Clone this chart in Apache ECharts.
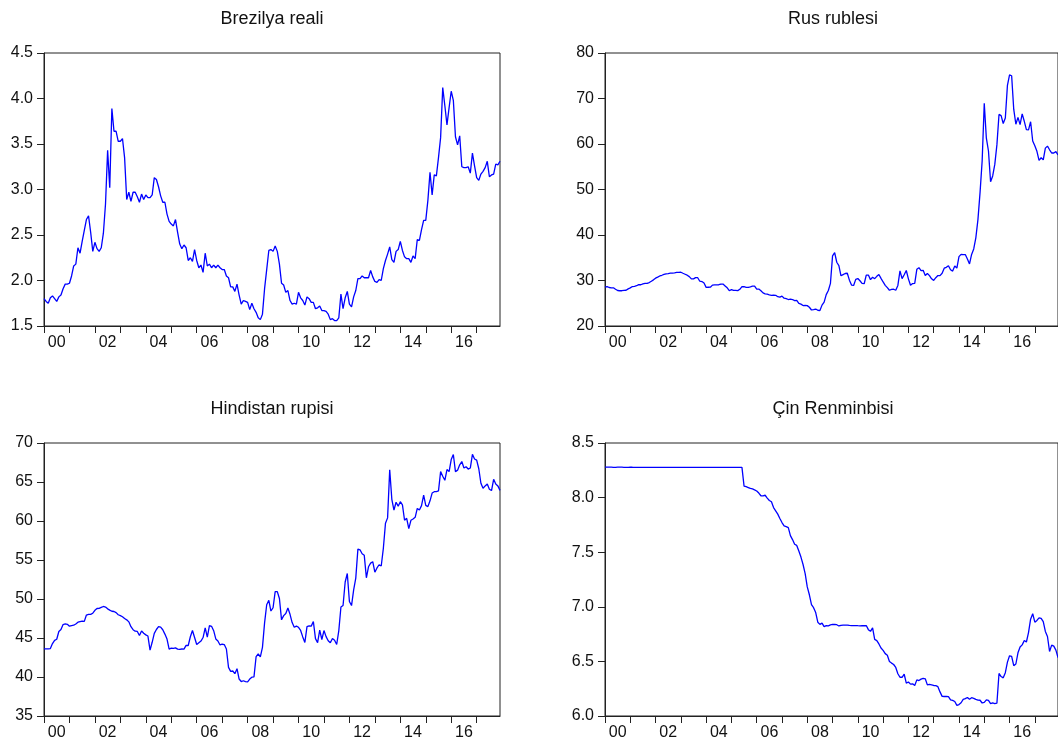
<!DOCTYPE html>
<html><head><meta charset="utf-8">
<script src="https://cdn.jsdelivr.net/npm/echarts@6/dist/echarts.min.js"></script>
<style>html,body{margin:0;padding:0;background:#fff}#c{width:1058px;height:742px}</style>
</head><body><div id="c"></div>
<script>
// Monthly end-of-period exchange rates (per USD), 2000M01 - 2017M12
const yearLabels = ['00','02','04','06','08','10','12','14','16'];
const titles = ['Brezilya reali', 'Rus rublesi', 'Hindistan rupisi', 'Çin Renminbisi'];

const brl = [
 1.80,1.77,1.75,1.81,1.83,1.80,1.77,1.82,1.84,1.91,1.96,1.96,
 1.97,2.05,2.16,2.18,2.36,2.30,2.43,2.55,2.67,2.71,2.53,2.32,
 2.42,2.35,2.32,2.36,2.52,2.84,3.43,3.02,3.89,3.64,3.64,3.53,
 3.53,3.56,3.35,2.89,2.97,2.87,2.97,2.97,2.92,2.86,2.95,2.89,
 2.94,2.91,2.91,2.94,3.13,3.11,3.03,2.93,2.86,2.86,2.73,2.65,
 2.62,2.60,2.67,2.53,2.40,2.35,2.39,2.36,2.22,2.25,2.21,2.34,
 2.22,2.14,2.17,2.09,2.30,2.16,2.18,2.14,2.17,2.14,2.17,2.14,
 2.12,2.12,2.05,2.03,1.93,1.93,1.88,1.96,1.84,1.74,1.78,1.77,
 1.76,1.68,1.75,1.69,1.65,1.59,1.57,1.63,1.91,2.12,2.33,2.34,
 2.32,2.38,2.32,2.18,1.97,1.95,1.87,1.89,1.78,1.74,1.75,1.74,
 1.87,1.81,1.78,1.73,1.82,1.80,1.76,1.76,1.69,1.70,1.72,1.67,
 1.67,1.66,1.63,1.57,1.58,1.56,1.56,1.59,1.85,1.69,1.81,1.88,
 1.74,1.71,1.82,1.89,2.02,2.02,2.05,2.03,2.03,2.03,2.11,2.04,
 1.99,1.98,2.01,2.00,2.13,2.22,2.29,2.37,2.23,2.20,2.32,2.34,
 2.43,2.33,2.26,2.24,2.24,2.20,2.27,2.24,2.45,2.44,2.56,2.66,
 2.66,2.88,3.19,2.94,3.16,3.15,3.35,3.57,4.12,3.92,3.71,3.90,
 4.08,3.98,3.58,3.49,3.59,3.25,3.24,3.24,3.25,3.18,3.40,3.26,
 3.13,3.10,3.17,3.20,3.24,3.31,3.14,3.16,3.17,3.28,3.27,3.31
];

const rub = [
 28.55,28.66,28.46,28.40,28.40,28.07,27.80,27.75,27.75,27.85,27.86,28.16,
 28.37,28.67,28.72,28.85,29.09,29.07,29.27,29.36,29.39,29.55,29.84,30.14,
 30.51,30.75,31.00,31.15,31.33,31.45,31.52,31.60,31.64,31.69,31.78,31.78,
 31.82,31.59,31.38,31.17,30.86,30.35,30.35,30.63,30.61,29.84,29.77,29.45,
 28.49,28.52,28.53,28.99,29.03,29.03,29.07,29.22,29.22,28.81,28.39,27.75,
 27.98,27.81,27.82,27.77,28.07,28.67,28.63,28.50,28.50,28.61,28.75,28.78,
 28.12,28.12,27.76,27.27,27.07,27.00,26.85,26.75,26.78,26.75,26.44,26.33,
 26.57,26.11,26.01,25.82,25.90,25.82,25.58,25.64,24.95,24.80,24.50,24.55,
 24.48,24.12,23.52,23.62,23.73,23.46,23.40,24.59,25.25,26.89,27.80,29.38,
 35.42,36.12,34.01,33.29,31.04,31.29,31.54,31.59,30.08,29.00,28.92,30.24,
 30.43,29.95,29.36,29.29,31.20,31.20,30.19,30.72,30.40,30.92,31.33,30.48,
 29.68,28.93,28.43,27.86,28.05,28.08,27.85,28.92,32.12,30.40,31.25,32.20,
 30.36,28.95,29.33,29.35,32.46,32.82,32.19,32.24,31.09,31.55,31.07,30.37,
 30.03,30.62,31.08,31.08,31.59,32.71,32.89,33.25,32.35,32.07,33.19,32.73,
 35.24,35.75,35.69,35.70,34.74,33.63,35.73,36.93,39.38,43.39,49.32,56.26,
 68.93,61.28,58.46,51.70,52.97,55.52,59.80,66.50,66.24,64.50,65.70,72.88,
 75.18,75.00,67.60,64.34,65.86,64.26,66.63,64.99,63.16,63.10,64.90,60.66,
 59.60,58.40,56.38,56.98,56.52,59.09,59.54,58.73,58.02,58.02,58.33,57.60
];

const inr = [
 43.60,43.60,43.61,43.65,44.28,44.70,44.84,45.83,46.08,46.72,46.80,46.75,
 46.51,46.60,46.64,46.80,47.02,47.09,47.15,47.13,47.94,48.03,48.03,48.18,
 48.55,48.78,48.80,48.92,49.04,48.97,48.74,48.58,48.43,48.40,48.25,47.98,
 47.87,47.72,47.50,47.33,47.07,46.45,46.07,45.87,45.84,45.32,45.91,45.61,
 45.40,45.25,43.45,44.45,45.59,46.09,46.45,46.39,46.06,45.50,44.86,43.58,
 43.69,43.67,43.73,43.57,43.55,43.59,43.57,44.06,44.04,45.16,45.96,45.07,
 44.17,44.39,44.61,45.06,46.30,45.10,46.60,46.50,45.94,44.88,44.62,44.11,
 44.20,44.16,43.59,41.23,40.72,40.77,40.42,41.06,39.74,39.42,39.52,39.41,
 39.37,39.73,39.97,40.02,42.60,42.95,42.57,43.80,46.94,49.26,49.83,48.46,
 48.88,50.95,50.95,50.06,47.33,47.87,48.15,48.84,48.04,46.98,46.37,46.53,
 46.37,45.97,45.14,44.43,46.45,46.56,46.52,47.11,44.92,44.41,46.00,44.81,
 45.95,45.18,44.65,44.38,44.93,44.72,44.17,45.95,48.97,49.16,52.18,53.27,
 49.68,49.16,51.16,52.68,56.40,56.31,55.80,55.60,52.72,54.13,54.60,54.78,
 53.44,53.98,54.39,54.23,56.50,59.70,60.40,66.57,62.78,61.41,62.40,61.90,
 62.48,62.07,60.10,60.34,59.03,60.09,60.25,60.47,61.61,61.42,61.97,63.33,
 62.00,61.84,62.59,63.58,63.76,63.76,63.86,66.33,65.74,65.22,66.60,66.33,
 67.88,68.52,66.33,66.52,67.20,67.62,66.79,66.96,66.66,66.79,68.55,67.95,
 67.80,66.70,64.84,64.20,64.50,64.74,64.08,63.90,65.35,64.75,64.50,63.93
];

const cny = [
 8.2793,8.2790,8.2787,8.2795,8.2770,8.2775,8.2793,8.2791,8.2784,8.2774,8.2775,8.2774,
 8.2787,8.2778,8.2776,8.2772,8.2769,8.2771,8.2772,8.2771,8.2770,8.2768,8.2766,8.2766,
 8.2767,8.2768,8.2773,8.2770,8.2769,8.2770,8.2767,8.2771,8.2769,8.2770,8.2771,8.2773,
 8.2769,8.2774,8.2774,8.2772,8.2771,8.2770,8.2774,8.2771,8.2773,8.2770,8.2771,8.2767,
 8.2768,8.2770,8.2771,8.2770,8.2768,8.2766,8.2768,8.2766,8.2765,8.2765,8.2765,8.2765,
 8.2765,8.2765,8.2765,8.2765,8.2765,8.2765,8.1056,8.1000,8.0920,8.0840,8.0800,8.0702,
 8.0608,8.0415,8.0170,8.0165,8.0215,7.9956,7.9737,7.9623,7.9087,7.8792,7.8487,7.8087,
 7.7715,7.7410,7.7342,7.7247,7.6516,7.6155,7.5729,7.5621,7.5108,7.4553,7.3872,7.3046,
 7.1818,7.1100,7.0190,6.9920,6.9472,6.8591,6.8388,6.8509,6.8183,6.8281,6.8258,6.8346,
 6.8382,6.8379,6.8359,6.8243,6.8300,6.8319,6.8325,6.8322,6.8290,6.8271,6.8275,6.8282,
 6.8270,6.8262,6.8263,6.8263,6.8284,6.7909,6.7750,6.8069,6.7011,6.6908,6.6600,6.6227,
 6.6011,6.5713,6.5564,6.4990,6.4845,6.4716,6.4447,6.3867,6.3549,6.3547,6.3825,6.3009,
 6.3115,6.2919,6.2943,6.2787,6.3308,6.3249,6.3379,6.3449,6.3410,6.2848,6.2892,6.2855,
 6.2795,6.2779,6.2689,6.2208,6.1796,6.1787,6.1788,6.1780,6.1480,6.1425,6.1325,6.0969,
 6.1050,6.1214,6.1521,6.1591,6.1695,6.1528,6.1675,6.1620,6.1525,6.1461,6.1443,6.1190,
 6.1254,6.1475,6.1422,6.1137,6.1196,6.1136,6.1172,6.3893,6.3613,6.3495,6.3962,6.4936,
 6.5516,6.5452,6.4612,6.4762,6.5790,6.6312,6.6511,6.6908,6.6778,6.7641,6.8865,6.9370,
 6.8588,6.8750,6.8993,6.8931,6.8633,6.7744,6.7283,6.5909,6.6493,6.6397,6.6034,6.5342
];

const yRanges = [
  {min: 1.5, max: 4.5, interval: 0.5, dec: 1},
  {min: 20, max: 80, interval: 10, dec: 0},
  {min: 35, max: 70, interval: 5, dec: 0},
  {min: 6.0, max: 8.5, interval: 0.5, dec: 1}
];
const seriesData = [brl, rub, inr, cny];

const FONT = 'Liberation Sans';
const AX = '#222';
const grids = [
  {left: 44, top: 53, width: 456, height: 273},
  {left: 605, top: 53, width: 456, height: 273},
  {left: 44, top: 443, width: 456, height: 273},
  {left: 605, top: 443, width: 456, height: 273}
];
const nMonths = brl.length;
const tickVals = [];
for (let m = 0; m < nMonths; m += 12) tickVals.push(m);
const labelVals = yearLabels.map((_, k) => k * 24);

const option = {
  animation: false,
  backgroundColor: '#ffffff',
  title: titles.map((t, i) => ({
    text: t,
    left: grids[i].left + grids[i].width / 2,
    top: grids[i].top - 43,
    textAlign: 'center',
    padding: 0,
    textStyle: {fontFamily: FONT, fontSize: 18, fontWeight: 'normal', color: '#111'}
  })),
  grid: grids.map(g => Object.assign({show: true, borderColor: AX, borderWidth: 1, backgroundColor: 'transparent', containLabel: false}, g)),
  xAxis: grids.map((g, i) => ({
    type: 'value', gridIndex: i, min: 0, max: nMonths - 1, interval: 12,
    axisLine: {show: true, onZero: false, lineStyle: {color: AX, width: 1}},
    axisTick: {show: true, inside: false, length: 7, customValues: tickVals, lineStyle: {color: AX, width: 1}},
    axisLabel: {
      show: true, customValues: labelVals, margin: 9,
      formatter: v => yearLabels[Math.round(v / 24)] || '',
      padding: [0, 0, 0, 25.4],
      fontFamily: FONT, fontSize: 16, color: '#111'
    },
    splitLine: {show: false}
  })),
  yAxis: yRanges.map((r, i) => ({
    type: 'value', gridIndex: i, min: r.min, max: r.max, interval: r.interval,
    axisLine: {show: true, onZero: false, lineStyle: {color: AX, width: 1}},
    axisTick: {show: true, inside: false, length: 7, lineStyle: {color: AX, width: 1}},
    axisLabel: {show: true, margin: 11, formatter: v => v.toFixed(r.dec), fontFamily: FONT, fontSize: 16, color: '#111'},
    splitLine: {show: false}
  })),
  series: seriesData.map((d, i) => ({
    type: 'line', xAxisIndex: i, yAxisIndex: i,
    data: d.map((v, k) => [k, v]),
    showSymbol: false, symbol: 'none', clip: true,
    lineStyle: {color: '#0000ff', width: 1.3},
    emphasis: {disabled: true}
  }))
};

const chart = echarts.init(document.getElementById('c'), null, {renderer: 'canvas'});
chart.setOption(option);
</script>
</body></html>
